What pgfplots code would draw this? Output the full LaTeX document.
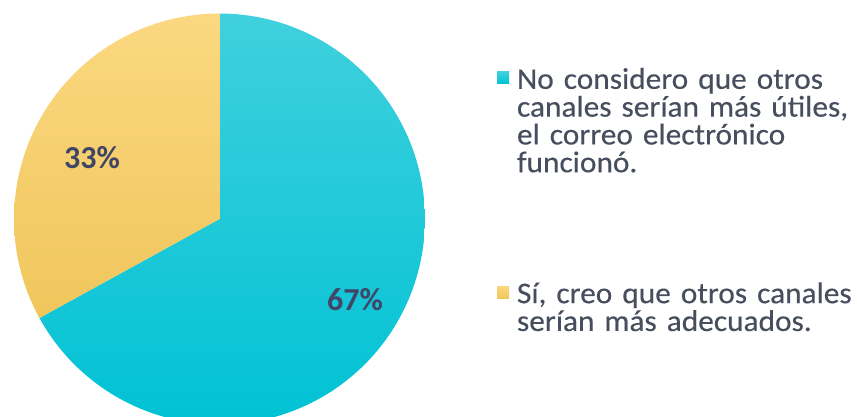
\documentclass[border=0pt]{standalone}
\usepackage{fontspec}
\setmainfont{Carlito}
\newfontfamily\legfont{Carlito}[FakeStretch=1.045, FakeBold=0.3]
\usepackage{pgfplots}
\usepackage{pgfplotstable}
\pgfplotsset{compat=1.18}
\definecolor{tealTop}{HTML}{40D0DD}
\definecolor{tealBot}{HTML}{00C2D4}
\definecolor{yelTop}{HTML}{FBD880}
\definecolor{yelBot}{HTML}{F0C65C}
\definecolor{tealSq}{HTML}{1EC7D6}
\definecolor{yelSq}{HTML}{F6C858}
\definecolor{legText}{HTML}{474E5E}
\definecolor{labText}{HTML}{414567}
\pgfplotstableread{
label share
No 67
Si 33
}\piedata
\pgfplotstablegetelem{0}{share}\of\piedata \let\shareA\pgfplotsretval
\pgfplotstablegetelem{1}{share}\of\piedata \let\shareB\pgfplotsretval
\begin{document}
\begin{tikzpicture}
\begin{axis}[
  width=857bp, height=417bp, scale only axis,
  xmin=0, xmax=857, ymin=0, ymax=417,
  axis line style={draw=none}, xtick=\empty, ytick=\empty,
  clip=true,
  legend cell align=left,
  legend style={draw=none, fill=none, at={(axis cs:497,349)}, anchor=north west,
    inner sep=0pt, outer sep=0pt, row sep=192bp, column sep=8bp,
    nodes={text width=340bp, align=left, inner sep=0pt, font=\legfont\fontsize{30bp}{27.8bp}\selectfont, text=legText},
    cells={anchor=base west}},
]
\addplot[draw=none, top color=tealTop, bottom color=tealBot, domain={90-3.6*\shareA}:90, samples=150,
  legend image code/.code={\fill[tealSq] (0bp,5bp) rectangle (12bp,17bp);}]
  ({219.5+205.5*cos(x)},{198+205.5*sin(x)}) -- (axis cs:219.5,198) -- cycle;
\addlegendentry{No considero que otros\\canales serían más útiles,\\el correo electrónico\\funcionó.}
\addplot[draw=none, top color=yelTop, bottom color=yelBot, domain={90}:{90+3.6*\shareB}, samples=80,
  legend image code/.code={\fill[yelSq] (0bp,5bp) rectangle (12bp,17bp);}]
  ({219.5+205.5*cos(x)},{198+205.5*sin(x)}) -- (axis cs:219.5,198) -- cycle;
\addlegendentry{Sí, creo que otros canales\\serían más adecuados.}
\node[font=\bfseries\fontsize{32bp}{36bp}\selectfont, text=labText] at (axis cs:92,259) {33\%};
\node[font=\bfseries\fontsize{32bp}{36bp}\selectfont, text=labText] at (axis cs:355,117) {67\%};
\end{axis}
\end{tikzpicture}
\end{document}
